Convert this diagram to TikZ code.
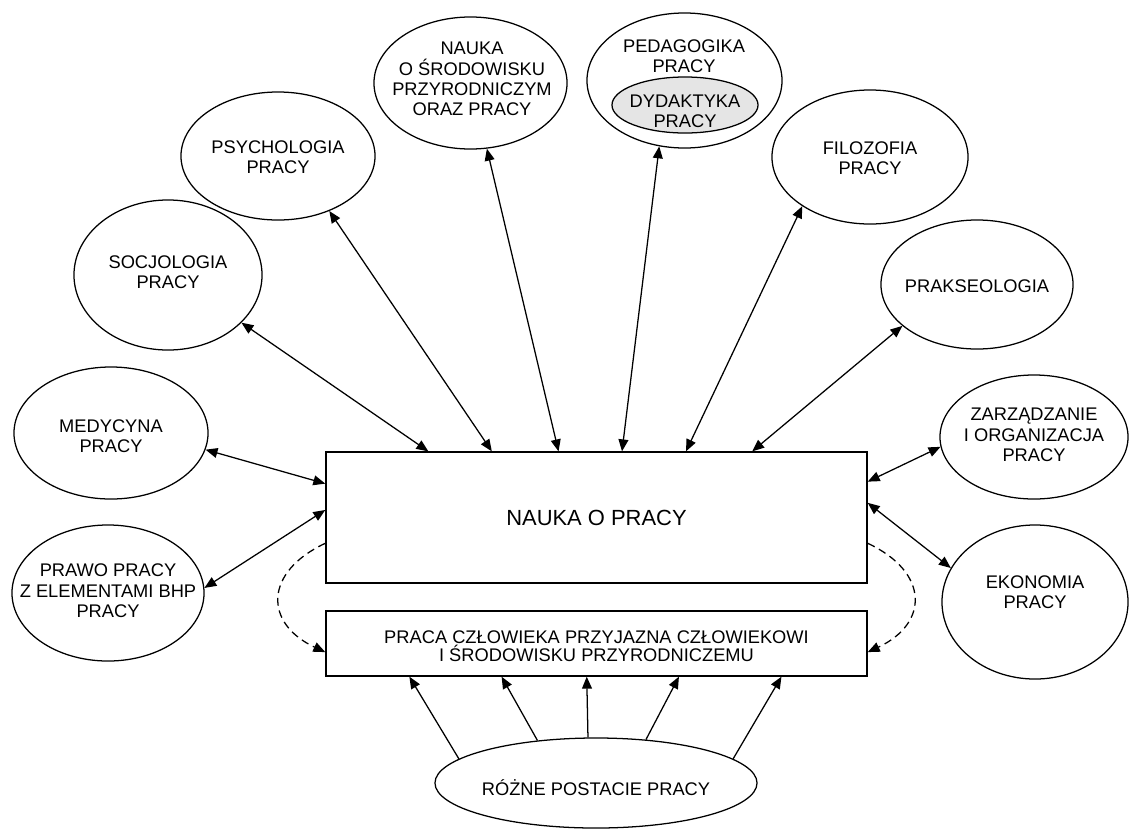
\documentclass[tikz,border=0pt]{standalone}
\usepackage{fontspec}
\setmainfont{Liberation Sans}
\usetikzlibrary{arrows.meta,calc,shapes.geometric}
\begin{document}
\begin{tikzpicture}[x=0.025cm,y=-0.025cm,
  ell/.style={draw, ellipse, line width=0.9pt, inner sep=0pt},
  txt/.style={inner sep=0pt, align=center, font=\fontsize{13}{14.5}\selectfont},
  box/.style={draw, rectangle, line width=0.9pt, inner sep=0pt},
  arr/.style={line width=0.9pt, {Triangle[length=8.5pt,width=7pt]}-{Triangle[length=8.5pt,width=7pt]}},
  uarr/.style={line width=0.9pt, -{Triangle[length=8.5pt,width=7pt]}},
  darr/.style={line width=0.9pt, dash pattern=on 5.5pt off 3.5pt, -{Triangle[length=8.5pt,width=7pt]}}]
\useasboundingbox (0,0) rectangle (1129,830);

% boxes
\node[box, minimum width=13.525cm, minimum height=3.275cm] (nauka) at (596.5,517.5) {};
\node[inner sep=0pt, font=\fontsize{15.6}{18}\selectfont] (naukat) at (596.5,518) {NAUKA O PRACY};
\node[box, minimum width=13.525cm, minimum height=1.625cm] (praca) at (596.5,643.5) {};
\node[inner sep=0pt, align=center, font=\fontsize{13}{11.7}\selectfont] (pracat) at (596.5,646) {PRACA CZŁOWIEKA PRZYJAZNA CZŁOWIEKOWI\\I ŚRODOWISKU PRZYRODNICZEMU};

% ellipses
\node[ell, minimum width=4.85cm, minimum height=3.3cm] (med) at (111,433) {};
\node[txt] (medt) at (111,436) {MEDYCYNA\\PRACY};

\node[ell, minimum width=4.8cm, minimum height=3.4cm] (prawo) at (108,593) {};
\node[txt] (prawot) at (108,591) {PRAWO PRACY\\Z ELEMENTAMI BHP\\PRACY};

\node[ell, minimum width=4.7cm, minimum height=3.75cm] (soc) at (168,275) {};
\node[txt] (soct) at (168,272) {SOCJOLOGIA\\PRACY};

\node[ell, minimum width=4.85cm, minimum height=3.2cm] (psy) at (278,156) {};
\node[txt] (psyt) at (278,157) {PSYCHOLOGIA\\PRACY};

\node[ell, minimum width=4.825cm, minimum height=3.3cm] (env) at (470.5,83) {};
\node[txt] (envt) at (472,79) {NAUKA\\O ŚRODOWISKU\\PRZYRODNICZYM\\ORAZ PRACY};

\node[ell, minimum width=4.875cm, minimum height=3.375cm] (ped) at (684.5,80.5) {};
\node[txt] (pedt) at (684,56) {PEDAGOGIKA\\PRACY};
\node[ell, fill=black!10, minimum width=3.65cm, minimum height=1.4cm] (dyd) at (685,105) {};
\node[txt] (dydt) at (685,111) {DYDAKTYKA\\PRACY};

\node[ell, minimum width=4.9cm, minimum height=3.35cm] (fil) at (870,157) {};
\node[txt] (filt) at (870,158) {FILOZOFIA\\PRACY};

\node[ell, minimum width=4.8cm, minimum height=3.225cm] (prak) at (977,284.5) {};
\node[txt] (prakt) at (977,286) {PRAKSEOLOGIA};

\node[ell, minimum width=4.7cm, minimum height=3.1cm] (zarz) at (1034,437) {};
\node[txt] (zarzt) at (1034,435) {ZARZĄDZANIE\\I ORGANIZACJA\\PRACY};

\node[ell, minimum width=4.65cm, minimum height=3.85cm] (eko) at (1035,602) {};
\node[txt] (ekot) at (1035,592) {EKONOMIA\\PRACY};

\node[ell, minimum width=8.05cm, minimum height=2.25cm] (roz) at (596,783) {};
\node[txt] (rozt) at (596,788) {RÓŻNE POSTACIE PRACY};

% connectors to top of NAUKA O PRACY
\draw[arr] (soc.-33) -- ($(nauka.north west)!0.190!(nauka.north east)$);
\draw[arr] (psy.-47.5) -- ($(nauka.north west)!0.307!(nauka.north east)$);
\draw[arr] (env.-76.5) -- ($(nauka.north west)!0.430!(nauka.north east)$);
\draw[arr] (ped.-111.6) -- ($(nauka.north west)!0.547!(nauka.north east)$);
\draw[arr] (fil.-144.5) -- ($(nauka.north west)!0.665!(nauka.north east)$);
\draw[arr] (prak.-151) -- ($(nauka.north west)!0.787!(nauka.north east)$);

% left and right
\draw[arr] (med.-10) -- ($(nauka.north west)!0.244!(nauka.south west)$);
\draw[arr] (prawo.3) -- ($(nauka.north west)!0.443!(nauka.south west)$);
\draw[arr] (zarz.186) -- ($(nauka.north east)!0.229!(nauka.south east)$);
\draw[arr] (eko.158) -- ($(nauka.north east)!0.389!(nauka.south east)$);

% dashed loops
\draw[darr] ($(nauka.north west)!0.695!(nauka.south west)$) to[out=205,in=155,looseness=1.6] ($(praca.north west)!0.63!(praca.south west)$);
\draw[darr] ($(nauka.north east)!0.695!(nauka.south east)$) to[out=-25,in=25,looseness=1.6] ($(praca.north east)!0.63!(praca.south east)$);

% bottom arrows
\draw[uarr] (roz.170) -- ($(praca.south west)!0.155!(praca.south east)$);
\draw[uarr] (roz.144.6) -- ($(praca.south west)!0.325!(praca.south east)$);
\draw[uarr] (roz.100) -- ($(praca.south west)!0.482!(praca.south east)$);
\draw[uarr] (roz.41.3) -- ($(praca.south west)!0.652!(praca.south east)$);
\draw[uarr] (roz.10.1) -- ($(praca.south west)!0.841!(praca.south east)$);
\end{tikzpicture}
\end{document}
